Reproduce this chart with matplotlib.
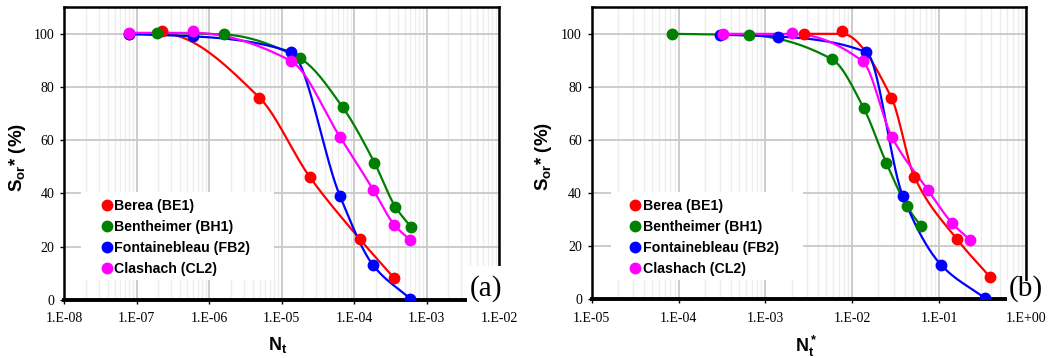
import numpy as np
import matplotlib
matplotlib.use("Agg")
import matplotlib.pyplot as plt
from matplotlib.lines import Line2D
from matplotlib.patches import Rectangle
from matplotlib.ticker import FuncFormatter, FixedLocator, NullFormatter

plt.rcParams['mathtext.fontset'] = 'custom'
plt.rcParams['mathtext.rm'] = 'Liberation Sans'
plt.rcParams['mathtext.bf'] = 'Liberation Sans:bold'
plt.rcParams['mathtext.it'] = 'Liberation Sans:italic'

series_names = ["Berea (BE1)", "Bentheimer (BH1)", "Fontainebleau (FB2)", "Clashach (CL2)"]
series_colors = ["#ff0000", "#008000", "#0000ff", "#ff00ff"]

# Panel (a): Sor* vs Nt
a_berea_x = [7.8e-8, 2.28e-7, 4.95e-6, 2.45e-5, 1.20e-4, 3.58e-4]
a_berea_y = [100.0, 101.0, 76.0, 46.2, 22.9, 8.2]
a_benth_x = [1.9e-7, 1.6e-6, 1.79e-5, 7.0e-5, 1.91e-4, 3.7e-4, 6.1e-4]
a_benth_y = [100.3, 99.7, 90.7, 72.3, 51.6, 35.1, 27.4]
a_fonta_x = [7.8e-8, 6.0e-7, 1.34e-5, 6.37e-5, 1.84e-4, 6.0e-4]
a_fonta_y = [99.8, 99.0, 93.1, 39.2, 13.0, 0.4]
a_clash_x = [7.8e-8, 6.0e-7, 1.34e-5, 6.37e-5, 1.84e-4, 3.58e-4, 6.0e-4]
a_clash_y = [100.3, 100.9, 89.8, 61.3, 41.4, 28.3, 22.4]

# Panel (b): Sor* vs Nt*
b_berea_x = [2.8e-3, 7.6e-3, 2.82e-2, 5.18e-2, 0.159, 0.388]
b_berea_y = [100.0, 100.9, 76.0, 46.2, 22.8, 8.3]
b_benth_x = [8.3e-5, 6.5e-4, 5.85e-3, 1.35e-2, 2.47e-2, 4.27e-2, 6.18e-2]
b_benth_y = [100.0, 99.5, 90.4, 72.1, 51.3, 35.0, 27.5]
b_fonta_x = [2.98e-4, 1.38e-3, 1.45e-2, 3.8e-2, 0.105, 0.337]
b_fonta_y = [99.7, 99.0, 93.1, 39.1, 13.0, 0.4]
b_clash_x = [3.22e-4, 2.04e-3, 1.32e-2, 2.86e-2, 7.38e-2, 0.141, 0.226]
b_clash_y = [100.0, 100.5, 89.6, 61.1, 41.3, 28.7, 22.4]

# axis tick decades
a_decades = [-8, -7, -6, -5, -4, -3, -2]
b_decades = [-5, -4, -3, -2, -1, 0]
y_ticks = [0, 20, 40, 60, 80, 100]

panel_a = [(a_berea_x, a_berea_y), (a_benth_x, a_benth_y), (a_fonta_x, a_fonta_y), (a_clash_x, a_clash_y)]
panel_b = [(b_berea_x, b_berea_y), (b_benth_x, b_benth_y), (b_fonta_x, b_fonta_y), (b_clash_x, b_clash_y)]


def pchip_curve(x, y, n=240):
    """Smooth monotone (PCHIP) trend line through the points, drawn in log-x space.
    The trend is kept non-increasing like the fitted curves of the original."""
    lx = np.log10(np.asarray(x, float))
    yy = np.minimum.accumulate(np.asarray(y, float))
    h = np.diff(lx)
    d = np.diff(yy) / h
    m = np.zeros_like(yy)
    for k in range(1, len(yy) - 1):
        if d[k - 1] * d[k] > 0:
            w1 = 2 * h[k] + h[k - 1]
            w2 = h[k] + 2 * h[k - 1]
            m[k] = (w1 + w2) / (w1 / d[k - 1] + w2 / d[k])
    m[0] = d[0]
    m[-1] = d[-1]
    xs, ys = [], []
    for k in range(len(h)):
        t = np.linspace(0, 1, n // len(h) + 2)
        h00 = 2 * t**3 - 3 * t**2 + 1
        h10 = t**3 - 2 * t**2 + t
        h01 = -2 * t**3 + 3 * t**2
        h11 = t**3 - t**2
        yk = h00 * yy[k] + h10 * h[k] * m[k] + h01 * yy[k + 1] + h11 * h[k] * m[k + 1]
        xs.append(lx[k] + t * h[k])
        ys.append(yk)
    return 10 ** np.concatenate(xs), np.concatenate(ys)


def fmt_exp(v, pos):
    e = int(round(np.log10(v)))
    return "1.E%+03d" % e


W, H = 1052, 358
fig = plt.figure(figsize=(W / 100, H / 100), dpi=100)

serif = 'Liberation Serif'
sans = 'Liberation Sans'


def setup(ax, decades, xlabel):
    ax.set_xscale('log')
    ax.set_xlim(10.0 ** decades[0], 10.0 ** decades[-1])
    ax.set_ylim(0, 110)
    ax.set_yticks(y_ticks)
    majors = [10.0 ** e for e in decades]
    minors = [s * 10.0 ** e for e in decades[:-1] for s in range(2, 10)]
    ax.xaxis.set_major_locator(FixedLocator(majors))
    ax.xaxis.set_minor_locator(FixedLocator(minors))
    ax.xaxis.set_major_formatter(FuncFormatter(fmt_exp))
    ax.xaxis.set_minor_formatter(NullFormatter())
    ax.grid(True, which='major', axis='both', color='#c8c8c8', lw=1.3, zorder=0)
    ax.grid(True, which='minor', axis='x', color='#ededed', lw=1.0, zorder=0)
    ax.set_axisbelow(True)
    ax.tick_params(axis='both', which='major', direction='out', length=3, width=1.0,
                   labelsize=10, color='black')
    ax.tick_params(axis='x', which='major', pad=6)
    ax.tick_params(axis='y', which='major', pad=4)
    ax.tick_params(axis='x', which='minor', length=0)
    for lab in ax.get_xticklabels() + ax.get_yticklabels():
        lab.set_fontfamily(serif)
    for s in ['left', 'top', 'right']:
        ax.spines[s].set_linewidth(1.8)
    ax.spines['bottom'].set_linewidth(2.8)
    ax.set_ylabel(r'$\mathbf{S_{or}}$* (%)', fontsize=13.5, fontweight='bold', family=sans)
    ax.set_xlabel(xlabel, fontsize=13, fontweight='bold', family=sans)


def draw(ax, panel, leg_anchor, box):
    for (x, y), c in zip(panel, series_colors):
        cx, cy = pchip_curve(x, y)
        ax.plot(cx, cy, color=c, lw=1.6, zorder=3, solid_capstyle='round')
    for (x, y), c in zip(panel, series_colors):
        ax.plot(x, y, 'o', color=c, ms=7.5, mec=c, zorder=4)
    ax.add_patch(Rectangle((box[0], box[1]), box[2], box[3], transform=ax.transAxes,
                           facecolor='white', edgecolor='none', zorder=2.5))
    handles = [Line2D([], [], marker='o', ls='none', color=c, ms=7.5) for c in series_colors]
    leg = ax.legend(handles, series_names, loc='upper left', bbox_to_anchor=leg_anchor,
                    frameon=False, handlelength=0.5, handletextpad=0.3, labelspacing=0.5,
                    borderaxespad=0, borderpad=0,
                    prop={'family': sans, 'weight': 'bold', 'size': 10.2})
    leg.set_zorder(5)


# panel (a)
axa = fig.add_axes([64 / W, 1 - 300 / H, 435 / W, 293 / H])
setup(axa, a_decades, r'$\mathbf{N_t}$')
draw(axa, panel_a, (0.09, 0.345), (0.039, 0.068, 0.444, 0.30))
axa.yaxis.set_label_coords(-0.083, 0.488)
axa.xaxis.set_label_coords(0.49, -0.118)

# panel (b)
axb = fig.add_axes([591.7 / W, 1 - 299.3 / H, 434.3 / W, 292 / H])
setup(axb, b_decades, r'$\mathbf{N_t^*}$')
draw(axb, panel_b, (0.092, 0.345), (0.045, 0.066, 0.442, 0.30))
axb.yaxis.set_label_coords(-0.086, 0.49)
axb.xaxis.set_label_coords(0.493, -0.118)

# panel tags with white boxes
for (x0, x1, y0, y1, tag, tx) in [(467, 506, 266, 306, '(a)', 486),
                                   (1007, 1052, 281, 306, '(b)', 1026)]:
    fig.add_artist(Rectangle((x0 / W, 1 - y1 / H), (x1 - x0) / W, (y1 - y0) / H,
                             transform=fig.transFigure, facecolor='white',
                             edgecolor='none', zorder=10))
    fig.text(tx / W, 1 - 289 / H, tag, fontsize=21, family=serif, ha='center',
             va='center', zorder=11)

fig.savefig('out.png', dpi=100)
